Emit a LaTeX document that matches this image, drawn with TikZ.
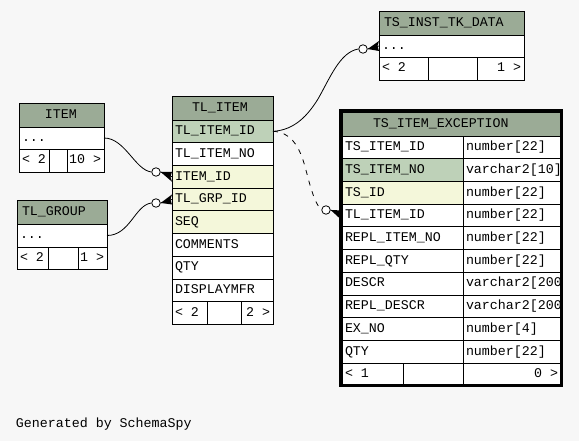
\documentclass[tikz,border=0pt]{standalone}
\usepackage{fontspec}
\setmonofont{Liberation Mono}
\definecolor{bgc}{HTML}{F7F7F7}
\definecolor{hdc}{HTML}{9BAB96}
\definecolor{pkc}{HTML}{BED1B8}
\definecolor{fkc}{HTML}{F4F7DA}
\newcommand\cl[6]{\node[cellbox, fill=#6, minimum width={#4-#2}, minimum height={#5-#3}] (#1) at ({(#2+#4)/2},{(#3+#5)/2}) {};}
\newcommand\txw[4]{\node[txt, anchor=west] (#1) at (#2,#3) {#4};}
\newcommand\txe[4]{\node[txt, anchor=east] (#1) at (#2,#3) {#4};}
\newcommand\crowfoot[2]{%
  \fill (#1.east) -- ([yshift=5pt]#2.west) -- ([xshift=-1.5pt]#2.west) -- ([yshift=-5pt]#2.west) -- cycle;
  \draw[conn] (#1.east) -- (#2.west);}
\begin{document}
\begin{tikzpicture}[x=1pt,y=-1pt,
  cellbox/.style={draw=black, line width=0.8pt, inner sep=0pt, outer sep=0pt},
  txt/.style={inner sep=0pt, outer sep=0pt, text height=9.8pt, text depth=3pt, font=\ttfamily\fontsize{13.3}{15}\selectfont},
  conn/.style={draw=black, line width=0.8pt},
  dotc/.style={circle, draw=black, fill=white, line width=0.8pt, inner sep=0pt, minimum size=8.5pt}]
\fill[bgc] (0,0) rectangle (579,441);
% ITEM
\cl{itemh}{19}{103}{104}{127}{hdc}
\cl{itemr}{19}{127}{104}{149}{white}
\cl{itemf1}{19}{149}{49}{172}{white}
\cl{itemf2}{49}{149}{67}{172}{white}
\cl{itemf3}{67}{149}{104}{172}{white}
\txw{itemht}{45}{115}{ITEM}
\txw{itemrt}{22}{138}{...}
\txw{itemf1t}{22}{160.5}{< 2}
\txe{itemf3t}{101}{160.5}{10 >}
% TL_GROUP
\cl{grph}{17}{200}{107}{224}{hdc}
\cl{grpr}{17}{224}{107}{247}{white}
\cl{grpf1}{17}{247}{48}{269}{white}
\cl{grpf2}{48}{247}{78}{269}{white}
\cl{grpf3}{78}{247}{107}{269}{white}
\txw{grpht}{22}{212}{TL\_GROUP}
\txw{grprt}{20}{235.5}{...}
\txw{grpf1t}{20}{258}{< 2}
\txe{grpf3t}{104}{258}{1 >}
% TL_ITEM
\cl{tlh}{172}{96}{273}{120}{hdc}
\cl{tlid}{172}{120}{273}{142.7}{pkc}
\cl{tlno}{172}{142.7}{273}{165.4}{white}
\cl{tlitemid}{172}{165.4}{273}{188.1}{fkc}
\cl{tlgrp}{172}{188.1}{273}{210.8}{fkc}
\cl{tlseq}{172}{210.8}{273}{233.5}{fkc}
\cl{tlcom}{172}{233.5}{273}{256.2}{white}
\cl{tlqty}{172}{256.2}{273}{278.9}{white}
\cl{tldisp}{172}{278.9}{273}{301.6}{white}
\cl{tlf1}{172}{301.6}{207}{324}{white}
\cl{tlf2}{207}{301.6}{241}{324}{white}
\cl{tlf3}{241}{301.6}{273}{324}{white}
\txw{tlht}{192}{108}{TL\_ITEM}
\txw{tlidt}{175}{131.35}{TL\_ITEM\_ID}
\txw{tlnot}{175}{154.05}{TL\_ITEM\_NO}
\txw{tlitemidt}{175}{176.75}{ITEM\_ID}
\txw{tlgrpt}{175}{199.45}{TL\_GRP\_ID}
\txw{tlseqt}{175}{222.15}{SEQ}
\txw{tlcomt}{175}{244.85}{COMMENTS}
\txw{tlqtyt}{175}{267.55}{QTY}
\txw{tldispt}{175}{290.25}{DISPLAYMFR}
\txw{tlf1t}{175}{312.8}{< 2}
\txe{tlf3t}{270}{312.8}{2 >}
% TS_INST_TK_DATA
\cl{insth}{379}{11}{524}{35}{hdc}
\cl{instr}{379}{35}{524}{57}{white}
\cl{instf1}{379}{57}{428}{80}{white}
\cl{instf2}{428}{57}{477}{80}{white}
\cl{instf3}{477}{57}{524}{80}{white}
\txw{instht}{384}{23}{TS\_INST\_TK\_DATA}
\txw{instrt}{382}{46}{...}
\txw{instf1t}{382}{68.5}{< 2}
\txe{instf3t}{521}{68.5}{1 >}
% TS_ITEM_EXCEPTION
\cl{exch}{342}{112}{561}{136}{hdc}
\cl{excn1}{342}{136}{463}{158.7}{white}
\cl{excn2}{342}{158.7}{463}{181.4}{pkc}
\cl{excn3}{342}{181.4}{463}{204.1}{fkc}
\cl{exctl}{342}{204.1}{463}{226.8}{white}
\cl{excn5}{342}{226.8}{463}{249.5}{white}
\cl{excn6}{342}{249.5}{463}{272.2}{white}
\cl{excn7}{342}{272.2}{463}{294.9}{white}
\cl{excn8}{342}{294.9}{463}{317.6}{white}
\cl{excn9}{342}{317.6}{463}{340.3}{white}
\cl{excn10}{342}{340.3}{463}{363}{white}
\cl{exct1}{463}{136}{561}{158.7}{white}
\cl{exct2}{463}{158.7}{561}{181.4}{white}
\cl{exct3}{463}{181.4}{561}{204.1}{white}
\cl{exct4}{463}{204.1}{561}{226.8}{white}
\cl{exct5}{463}{226.8}{561}{249.5}{white}
\cl{exct6}{463}{249.5}{561}{272.2}{white}
\cl{exct7}{463}{272.2}{561}{294.9}{white}
\cl{exct8}{463}{294.9}{561}{317.6}{white}
\cl{exct9}{463}{317.6}{561}{340.3}{white}
\cl{exct10}{463}{340.3}{561}{363}{white}
\cl{excf1}{342}{363}{403}{385.7}{white}
\cl{excf2}{403}{363}{463}{385.7}{white}
\cl{excf3}{463}{363}{561}{385.7}{white}
\txw{excht}{373}{124}{TS\_ITEM\_EXCEPTION}
\txw{excn1t}{345}{147.35}{TS\_ITEM\_ID}
\txw{excn2t}{345}{170.05}{TS\_ITEM\_NO}
\txw{excn3t}{345}{192.75}{TS\_ID}
\txw{exctlt}{345}{215.45}{TL\_ITEM\_ID}
\txw{excn5t}{345}{238.15}{REPL\_ITEM\_NO}
\txw{excn6t}{345}{260.85}{REPL\_QTY}
\txw{excn7t}{345}{283.55}{DESCR}
\txw{excn8t}{345}{306.25}{REPL\_DESCR}
\txw{excn9t}{345}{328.95}{EX\_NO}
\txw{excn10t}{345}{351.65}{QTY}
\begin{scope}
\clip (463,136) rectangle (560,363);
\txw{exct1t}{466}{147.35}{number[22]}
\txw{exct2t}{466}{170.05}{varchar2[10]}
\txw{exct3t}{466}{192.75}{number[22]}
\txw{exct4t}{466}{215.45}{number[22]}
\txw{exct5t}{466}{238.15}{number[22]}
\txw{exct6t}{466}{260.85}{number[22]}
\txw{exct7t}{466}{283.55}{varchar2[200]}
\txw{exct8t}{466}{306.25}{varchar2[200]}
\txw{exct9t}{466}{328.95}{number[4]}
\txw{exct10t}{466}{351.65}{number[22]}
\end{scope}
\txw{excf1t}{345}{374.35}{< 1}
\txe{excf3t}{558}{374.35}{0 >}
% circles
\node[dotc] (c1) at (156,172) {};
\node[dotc] (c2) at (156,203) {};
\node[dotc] (c3) at (363,49) {};
\node[dotc] (c4) at (326,210) {};
% connectors
\draw[conn] (itemr.east) .. controls (125,138) and (135,170) .. (c1.west);
\draw[conn] (grpr.east) .. controls (130,235.5) and (135,205) .. (c2.west);
\draw[conn] (tlid.east) .. controls (295,130) and (308,115) .. (318,99) .. controls (330,78) and (340,52) .. (c3.west);
\draw[conn, dash pattern=on 5pt off 6pt] (tlid.east) .. controls (290,132) and (298,145) .. (303,160) .. controls (308,175) and (312,200) .. (c4.west);
\crowfoot{c1}{tlitemid}
\crowfoot{c2}{tlgrp}
\crowfoot{c3}{instr}
\crowfoot{c4}{exctl}
% thick frame
\draw[line width=3pt] (340.5,110.5) rectangle (561.5,385.5);
\node[txt, anchor=base west] (gen) at (16,427) {Generated by SchemaSpy};
\end{tikzpicture}
\end{document}
